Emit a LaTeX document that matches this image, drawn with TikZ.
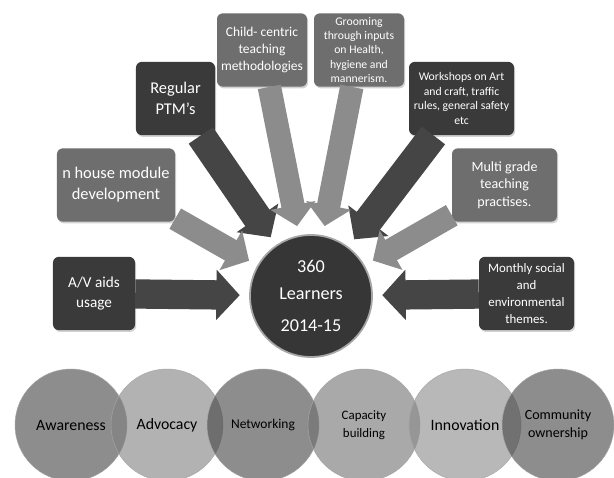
\documentclass[tikz,border=0pt]{standalone}
\usepackage{fontspec}
\setmainfont{Carlito}
\usetikzlibrary{arrows.meta, shadows}

\definecolor{boxdark}{HTML}{3A3A3A}
\definecolor{boxgrey}{HTML}{6E6E6E}
\definecolor{arrowdark}{HTML}{454545}
\definecolor{arrowgrey}{HTML}{8C8C8C}
\definecolor{hubdark}{HTML}{363636}

\begin{document}
\begin{tikzpicture}[x=0.03cm, y=-0.03cm,
		box/.style={rounded corners=5pt, text=white, align=center, inner sep=1pt, minimum height=2.2cm,
			drop shadow={opacity=0.35, shadow xshift=1pt, shadow yshift=-1.5pt}},
		darkbox/.style={box, fill=boxdark},
		greybox/.style={box, fill=boxgrey},
		dk/.style={line width=25pt, arrowdark, -{Triangle[length=20pt, width=42pt, fill=arrowdark]}, shorten >=8pt},
		lt/.style={line width=20pt, arrowgrey, -{Triangle[length=18pt, width=38pt, fill=arrowgrey]}, shorten >=8pt},
		ring/.style={circle, minimum size=3.36cm, fill opacity=0.6, text opacity=1, draw=black!35, text=black, align=center}]
			\path[use as bounding box, fill=white] (0,0) rectangle (614,478);

			\node[circle, minimum size=3.66cm, fill=hubdark, draw=gray!70, line width=1.5pt, text=white, align=center,
				font=\fontsize{15.5}{23}\selectfont] (0) at (311,296) {360\\Learners\\[5pt]2014-15};

			\node[darkbox, minimum width=2.46cm, font=\fontsize{13}{17}\selectfont] (1) at (94,293.5) {A/V aids\\usage};
			\node[greybox, minimum width=3.54cm, font=\fontsize{14}{18}\selectfont] (2) at (116,185) {n house module\\development};
			\node[darkbox, minimum width=2.37cm, font=\fontsize{14}{18}\selectfont] (3) at (175.5,98.5) {Regular\\PTM's};
			\node[greybox, minimum width=2.7cm, font=\fontsize{11.5}{14.5}\selectfont] (4) at (262,50) {Child- centric\\teaching\\methodologies};
			\node[greybox, minimum width=2.7cm, font=\fontsize{10}{12}\selectfont] (5) at (359,50) {Grooming\\through inputs\\on Health,\\hygiene and\\mannerism.};
			\node[darkbox, minimum width=3.15cm, font=\fontsize{10}{12.5}\selectfont] (6) at (461.5,98.5) {Workshops on Art\\and craft, traffic\\rules, general safety\\etc};
			\node[greybox, minimum width=3.15cm, font=\fontsize{12}{15}\selectfont] (7) at (504.5,185) {Multi grade\\teaching\\practises.};
			\node[darkbox, minimum width=2.85cm, font=\fontsize{11}{14.5}\selectfont] (8) at (526.5,293.5) {Monthly social\\and\\environmental\\themes.};

			\draw[dk] (1) edge (0)
			(3) edge (0)
			(6) edge (0)
			(8) edge (0);
			\draw[lt] (2) edge (0)
			(4) edge (0)
			(5) edge (0)
			(7) edge (0);

			\node[ring, fill=black!74, font=\fontsize{13.5}{15}\selectfont] (9) at (71,425) {Awareness};
			\node[ring, fill=black!50, font=\fontsize{13.5}{15}\selectfont] (10) at (167,425) {Advocacy};
			\node[ring, fill=black!74, font=\fontsize{11.5}{15}\selectfont] (11) at (263,425) {Networking};
			\node[ring, fill=black!56, font=\fontsize{11}{15.5}\selectfont] (12) at (364,425) {Capacity\\building};
			\node[ring, fill=black!46, font=\fontsize{13.5}{15}\selectfont] (13) at (465,425) {Innovation};
			\node[ring, fill=black!74, font=\fontsize{12}{15.5}\selectfont] (14) at (558,425) {Community\\ownership};

		\end{tikzpicture}
\end{document}
